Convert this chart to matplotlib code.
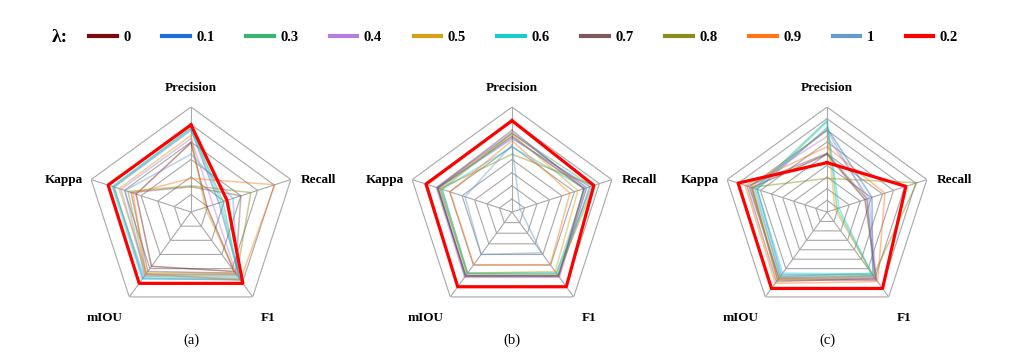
import numpy as np
import matplotlib
matplotlib.use("Agg")
import matplotlib.pyplot as plt
from matplotlib.lines import Line2D

plt.rcParams['font.family'] = ['Liberation Serif', 'DejaVu Serif']

# axes of the radar, clockwise from the top
metrics = ['Precision', 'Recall', 'F1', 'mIOU', 'Kappa']
lambdas = ['0', '0.1', '0.3', '0.4', '0.5', '0.6', '0.7', '0.8', '0.9', '1', '0.2']
colors = ['#7b0c0c', '#1f6fd8', '#3cb371', '#b57edc', '#d4a017', '#1accd0',
          '#7d5a5a', '#8c8c1c', '#ff7518', '#6699cc', '#ff0000']

# values as fraction of the outer ring, one row per lambda (same order as above)
vals_a = [
    [0.66, 0.16, 0.70, 0.64, 0.55],
    [0.78, 0.28, 0.80, 0.78, 0.77],
    [0.80, 0.32, 0.78, 0.76, 0.78],
    [0.70, 0.22, 0.74, 0.74, 0.70],
    [0.73, 0.14, 0.72, 0.72, 0.72],
    [0.80, 0.30, 0.79, 0.79, 0.79],
    [0.24, 0.50, 0.72, 0.70, 0.60],
    [0.25, 0.60, 0.74, 0.73, 0.63],
    [0.32, 0.84, 0.80, 0.73, 0.58],
    [0.55, 0.42, 0.76, 0.75, 0.66],
    [0.83, 0.36, 0.84, 0.84, 0.83],
]
vals_b = [
    [0.72, 0.72, 0.76, 0.76, 0.74],
    [0.70, 0.78, 0.75, 0.75, 0.74],
    [0.75, 0.80, 0.72, 0.72, 0.70],
    [0.76, 0.74, 0.77, 0.77, 0.76],
    [0.74, 0.66, 0.70, 0.72, 0.72],
    [0.62, 0.73, 0.72, 0.72, 0.70],
    [0.78, 0.72, 0.75, 0.75, 0.75],
    [0.55, 0.82, 0.74, 0.73, 0.72],
    [0.68, 0.58, 0.62, 0.62, 0.62],
    [0.64, 0.08, 0.48, 0.50, 0.47],
    [0.87, 0.82, 0.88, 0.88, 0.86],
]
vals_c = [
    [0.55, 0.38, 0.80, 0.80, 0.75],
    [0.80, 0.45, 0.74, 0.74, 0.70],
    [0.87, 0.10, 0.72, 0.76, 0.72],
    [0.72, 0.42, 0.80, 0.78, 0.78],
    [0.78, 0.08, 0.76, 0.80, 0.76],
    [0.86, 0.12, 0.73, 0.72, 0.70],
    [0.56, 0.40, 0.78, 0.82, 0.80],
    [0.32, 0.90, 0.75, 0.78, 0.76],
    [0.62, 0.58, 0.82, 0.84, 0.82],
    [0.78, 0.40, 0.76, 0.76, 0.74],
    [0.47, 0.79, 0.90, 0.90, 0.89],
]
panels = [('(a)', vals_a, 6), ('(b)', vals_b, 8), ('(c)', vals_c, 9)]
centers_x = [191, 512, 827]

W, H = 1024, 360
fig = plt.figure(figsize=(W / 100, H / 100), dpi=100)

theta = np.deg2rad(np.arange(5) * 72.0)
theta_closed = np.append(theta, theta[0])
R = 105
cy = 212

# label offsets from the outer vertex, in points
lab_off = [((0, 14), 'center'), ((7, 0), 'left'), ((11, -15), 'center'),
           ((-18, -15), 'center'), ((-6, 0), 'right')]

for (cap, vals, nrings), cx in zip(panels, centers_x):
    ax = fig.add_axes([(cx - R) / W, (H - cy - R) / H, 2 * R / W, 2 * R / H], polar=True)
    ax.set_theta_zero_location('N')
    ax.set_theta_direction(-1)
    ax.set_ylim(0, 1)
    ax.grid(False)
    ax.set_xticks([])
    ax.set_yticks([])
    ax.spines['polar'].set_visible(False)
    ax.patch.set_alpha(0)

    # pentagon grid
    for k in range(1, nrings + 1):
        r = k / nrings
        ax.plot(theta_closed, [r] * 6, color='#a8a8a8', lw=0.8, zorder=1)
    for t in theta:
        ax.plot([t, t], [0, 1], color='#a8a8a8', lw=0.8, zorder=1)

    for i, row in enumerate(vals):
        v = np.append(row, row[0])
        if lambdas[i] == '0.2':
            ax.plot(theta_closed, v, color=colors[i], lw=2.3, zorder=5)
        else:
            ax.plot(theta_closed, v, color=colors[i], lw=1.1, alpha=0.45, zorder=3)

    for t, name, (off, ha) in zip(theta, metrics, lab_off):
        ax.annotate(name, xy=(t, 1.0), xytext=off, textcoords='offset points',
                    ha=ha, va='center', fontsize=9.5, fontweight='bold',
                    annotation_clip=False)

    fig.text(cx / W, 1 - 340 / H, cap, ha='center', va='center', fontsize=10.5)

handles = [Line2D([], [], color=c, lw=3) for c in colors]
fig.text(52 / W, 1 - 38 / H, 'λ:', ha='left', va='center', fontsize=14, fontweight='bold')
fig.legend(handles, lambdas, loc='center left', bbox_to_anchor=(76 / W, 1 - 37 / H),
           ncol=11, frameon=False, handlelength=1.9, handletextpad=0.45,
           columnspacing=2.15, prop={'weight': 'bold', 'size': 10.5})

fig.savefig('out.png', dpi=100)
